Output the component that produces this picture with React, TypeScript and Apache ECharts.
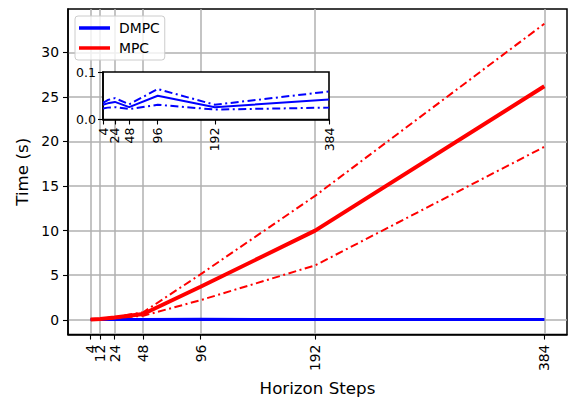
import React, { useEffect, useRef } from 'react';
import * as echarts from 'echarts';

const steps = [4, 12, 24, 48, 96, 192, 384];
const mainTicksX = [4, 12, 24, 48, 96, 192, 384];
const insetTicksX = [4, 24, 48, 96, 192, 384];
const mainTicksY = [0, 5, 10, 15, 20, 25, 30];
const insetTicksY = [0, 0.1];

const dmpcMean = [0.031, 0.034, 0.037, 0.026, 0.05, 0.026, 0.042];
const dmpcMax = [0.035, 0.041, 0.045, 0.032, 0.064, 0.031, 0.059];
const dmpcMin = [0.023, 0.025, 0.026, 0.022, 0.031, 0.021, 0.025];
const mpcMean = [0.03, 0.1, 0.25, 0.65, 3.7, 10.0, 26.2];
const mpcMax = [0.04, 0.13, 0.3, 0.85, 5.1, 13.9, 33.2];
const mpcMin = [0.02, 0.07, 0.18, 0.45, 2.2, 6.1, 19.4];

const FONT = 'DejaVu Sans';
const BLUE = '#0000ff';
const RED = '#ff0000';
const DASHDOT = [8, 3.5, 2, 3.5];

// Reorder label values so the library's first/last-label overlap check
// does not hide closely spaced labels (positions are unaffected).
const spreadOrder = (vals: number[]) => {
  if (vals.length < 4) return vals;
  const v = vals.slice();
  const second = v.splice(1, 1)[0];
  v.splice(3, 0, second);
  return v;
};

const pts = (arr: number[]) => steps.map((s, i) => [s, arr[i]]);

function line(name: string, data: number[], color: string, width: number, dashed: boolean, idx: number, z = 2) {
  return {
    type: 'line',
    name,
    xAxisIndex: idx,
    yAxisIndex: idx,
    data: pts(data),
    showSymbol: false,
    symbol: 'none',
    z,
    lineStyle: { color, width, type: dashed ? DASHDOT : 'solid' },
    itemStyle: { color },
    emphasis: { disabled: true },
  };
}

export default function App() {
  const ref = useRef<HTMLDivElement>(null);
  useEffect(() => {
    const chart = echarts.init(ref.current!, null, { renderer: 'svg' });
    const option: any = {
      animation: false,
      backgroundColor: '#ffffff',
      textStyle: { fontFamily: FONT, color: '#000' },
      grid: [
        { left: 68, top: 9, width: 499, height: 329, show: true, borderColor: '#000', borderWidth: 1.5, backgroundColor: 'transparent', z: 0 },
        { left: 103, top: 72, width: 226, height: 47.5, show: true, borderColor: '#000', borderWidth: 1.6, backgroundColor: '#ffffff', z: 1 },
      ],
      legend: {
        orient: 'vertical',
        left: 75,
        top: 16,
        data: [
          { name: 'DMPC', icon: 'rect' },
          { name: 'MPC', icon: 'rect' },
        ],
        itemWidth: 31,
        itemHeight: 3.5,
        itemGap: 6,
        padding: [5, 5, 5, 4],
        borderColor: '#cccccc',
        borderWidth: 1,
        borderRadius: 3,
        backgroundColor: 'rgba(255,255,255,0.8)',
        textStyle: { fontFamily: FONT, fontSize: 13.9, color: '#000', padding: [0, 0, 0, 4] },
        selectedMode: false,
        z: 5,
      },
      xAxis: [
        {
          type: 'value',
          gridIndex: 0,
          min: -15,
          max: 403,
          name: 'Horizon Steps',
          nameLocation: 'middle',
          nameGap: 37,
          nameTextStyle: { fontFamily: FONT, fontSize: 16.7, color: '#000' },
          axisLine: { show: true, onZero: false, lineStyle: { color: '#000', width: 1.5 } },
          axisTick: { show: true, customValues: mainTicksX, length: 5, lineStyle: { color: '#000', width: 1.1 } },
          axisLabel: { customValues: spreadOrder(mainTicksX), rotate: 90, fontSize: 13.9, fontFamily: FONT, color: '#000', margin: 10, hideOverlap: false },
          splitLine: { show: true, lineStyle: { color: '#b0b0b0', width: 1.5 } },
        },
        {
          type: 'value',
          gridIndex: 1,
          min: 4,
          max: 384,
          z: 3,
          axisLine: { show: true, onZero: false, lineStyle: { color: '#000', width: 1.6 } },
          axisTick: { show: true, customValues: insetTicksX, length: 5, lineStyle: { color: '#000', width: 1.1 } },
          axisLabel: { customValues: spreadOrder(insetTicksX), rotate: 90, fontSize: 12.5, fontFamily: FONT, color: '#000', margin: 8, hideOverlap: false },
          splitLine: { show: false },
        },
      ],
      yAxis: [
        {
          type: 'value',
          gridIndex: 0,
          min: -1.66,
          max: 34.86,
          name: 'Time (s)',
          nameLocation: 'middle',
          nameGap: 34,
          nameRotate: 90,
          nameTextStyle: { fontFamily: FONT, fontSize: 16.7, color: '#000' },
          axisLine: { show: true, onZero: false, lineStyle: { color: '#000', width: 1.5 } },
          axisTick: { show: true, customValues: mainTicksY, length: 5, lineStyle: { color: '#000', width: 1.1 } },
          axisLabel: { customValues: mainTicksY, fontSize: 13.9, fontFamily: FONT, color: '#000', margin: 9 },
          splitLine: { show: true, lineStyle: { color: '#b0b0b0', width: 1.5 } },
        },
        {
          type: 'value',
          gridIndex: 1,
          min: 0,
          max: 0.1,
          z: 3,
          axisLine: { show: true, onZero: false, lineStyle: { color: '#000', width: 1.6 } },
          axisTick: { show: true, customValues: insetTicksY, length: 5, lineStyle: { color: '#000', width: 1.1 } },
          axisLabel: { customValues: insetTicksY, fontSize: 12.5, fontFamily: FONT, color: '#000', margin: 7, showMinLabel: true, showMaxLabel: true, formatter: (v: number) => v.toFixed(1) },
          splitLine: { show: false },
        },
      ],
      series: [
        line('DMPC', dmpcMean, BLUE, 3, false, 0),
        line('DMPC max', dmpcMax, BLUE, 2, true, 0),
        line('DMPC min', dmpcMin, BLUE, 2, true, 0),
        line('MPC', mpcMean, RED, 4, false, 0),
        line('MPC max', mpcMax, RED, 2, true, 0),
        line('MPC min', mpcMin, RED, 2, true, 0),
        line('DMPC inset', dmpcMean, BLUE, 2, false, 1, 3),
        line('DMPC inset max', dmpcMax, BLUE, 2, true, 1, 3),
        line('DMPC inset min', dmpcMin, BLUE, 2, true, 1, 3),
      ],
    };
    chart.setOption(option);
    return () => chart.dispose();
  }, []);
  return (
    <div
      ref={ref}
      style={{ position: 'fixed', left: 0, top: 0, width: 570, height: 401, background: '#fff' }}
    />
  );
}
